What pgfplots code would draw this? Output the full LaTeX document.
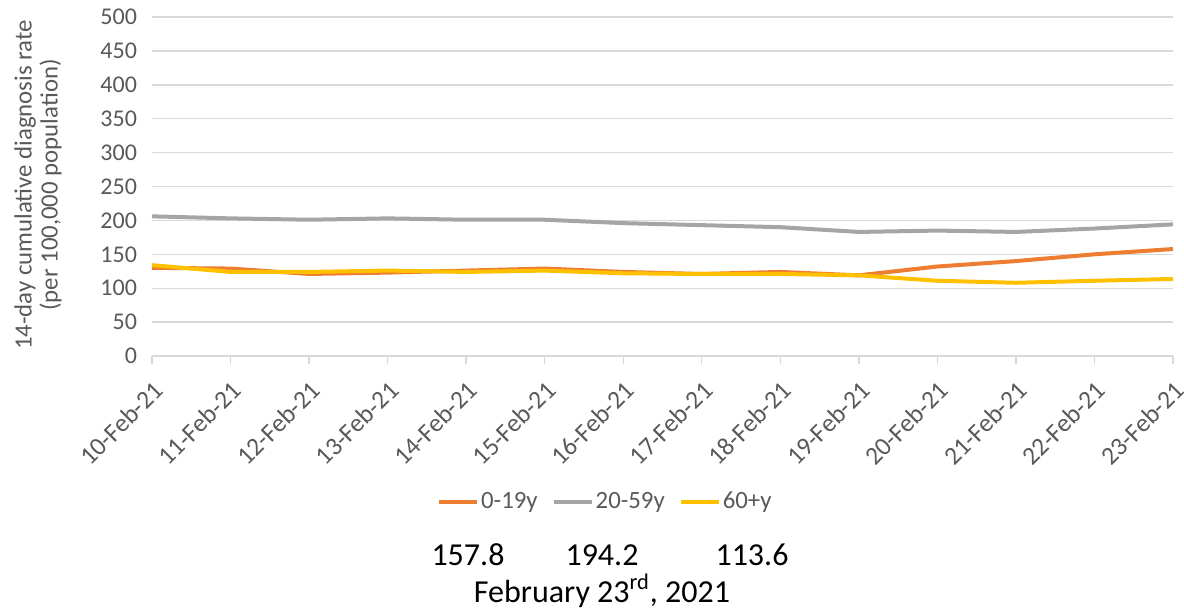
\documentclass[border=0pt]{standalone}
\usepackage{pgfplots}
\pgfplotsset{compat=1.18}
\usepackage{fontspec}
\setmainfont{Carlito}
\definecolor{cOrange}{HTML}{ED7D31}
\definecolor{cGray}{HTML}{A5A5A5}
\definecolor{cYellow}{HTML}{FFC000}
\definecolor{cText}{HTML}{595959}
\definecolor{cGrid}{HTML}{D9D9D9}
\begin{document}
\begin{tikzpicture}
\path[use as bounding box] (-76pt,-128pt) rectangle (516pt,178pt);
\begin{axis}[
  at={(0,0)}, anchor=south west,
  scale only axis, width=510.5pt, height=169.5pt,
  xmin=0, xmax=13, ymin=0, ymax=500,
  ytick distance=50,
  xtick={0,...,13},
  xticklabels={10-Feb-21,11-Feb-21,12-Feb-21,13-Feb-21,14-Feb-21,15-Feb-21,16-Feb-21,17-Feb-21,18-Feb-21,19-Feb-21,20-Feb-21,21-Feb-21,22-Feb-21,23-Feb-21},
  x tick label style={rotate=45, anchor=north east, font=\fontsize{12.8}{14}\selectfont, text=cText, inner sep=0.5pt},
  xticklabel shift=7pt,
  y tick label style={font=\fontsize{12}{14}\selectfont, text=cText},
  /pgf/number format/assume math mode=true,
  axis x line*=bottom, axis y line*=left,
  x axis line style={draw=cGrid, line width=0.7pt, -},
  y axis line style={draw=none},
  ytick style={draw=none},
  xtick style={draw=cGrid, line width=0.7pt},
  tick align=outside, major tick length=4pt,
  ymajorgrids, grid style={draw=cGrid, line width=0.7pt},
  ylabel={14-day cumulative diagnosis rate\\(per 100,000 population)},
  ylabel style={align=center, font=\fontsize{12.4}{13}\selectfont, text=cText, at={(-57pt,85.5pt)}, anchor=center},
  legend style={draw=none, fill=none, at={(0.444,-0.43)}, anchor=center, legend columns=3,
    font=\fontsize{12.4}{14}\selectfont, text=cText,
    nodes={inner xsep=1pt},
    /tikz/every odd column/.append style={column sep=0pt},
    /tikz/every even column/.append style={column sep=6pt}},
  legend cell align=left,
  legend image code/.code={\draw[#1, line width=2pt] (0pt,0pt) -- (19pt,0pt);},
  every axis plot/.append style={line width=2pt, mark=none},
]
\addplot[cOrange] coordinates {(0,130) (1,129) (2,121) (3,123) (4,126) (5,129) (6,124) (7,121) (8,124) (9,119) (10,132) (11,140) (12,150) (13,157.8)};
\addlegendentry{0-19y}
\addplot[cGray] coordinates {(0,206) (1,203) (2,201) (3,203) (4,201) (5,201) (6,196) (7,193) (8,190) (9,183) (10,185) (11,183) (12,188) (13,194.2)};
\addlegendentry{20-59y}
\addplot[cYellow] coordinates {(0,134) (1,124) (2,124) (3,126) (4,124) (5,126) (6,122) (7,121) (8,121) (9,119) (10,111) (11,108) (12,111) (13,113.6)};
\addlegendentry{60+y}
\end{axis}
\node[font=\fontsize{16}{19}\selectfont] at (158pt,-99.5pt) {157.8};
\node[font=\fontsize{16}{19}\selectfont] at (225pt,-99.5pt) {194.2};
\node[font=\fontsize{16}{19}\selectfont] at (300pt,-99.5pt) {113.6};
\node[font=\fontsize{16}{19}\selectfont] at (225pt,-117.5pt) {February 23\textsuperscript{rd}, 2021};
\end{tikzpicture}
\end{document}
